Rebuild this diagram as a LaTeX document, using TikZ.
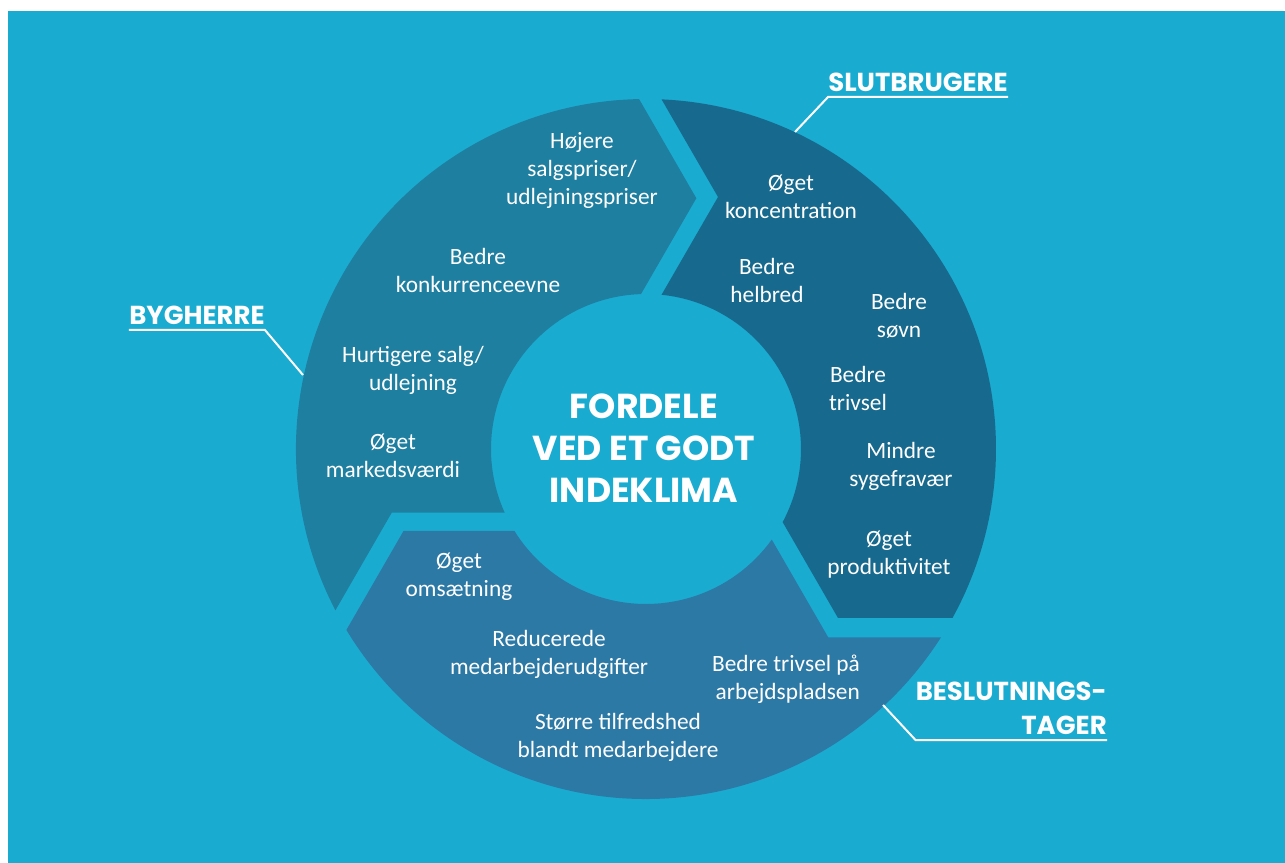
\documentclass[tikz,border=0pt]{standalone}
\usepackage{fontspec}
\setmainfont{Carlito}
\newfontfamily\headfont{Poppins}
\definecolor{bgblue}{RGB}{26,171,209}
\definecolor{partA}{RGB}{30,127,160}
\definecolor{partB}{RGB}{23,105,141}
\definecolor{partC}{RGB}{44,121,166}

\newcommand{\ringpart}[2]{%
  \fill[#2, rotate=#1] (87.45:350) arc[start angle=87.45, end angle=-28.87, radius=350]
    -- (192,-169) -- (-28.15:155) arc[start angle=-28.15, end angle=84.24, radius=155]
    -- (72,252) -- cycle;}

\begin{document}
\begin{tikzpicture}[x=0.75pt, y=0.75pt,
  txt/.style={text=white, align=center, font=\fontsize{17.5}{21}\selectfont},
  lbl/.style={text=white, font=\headfont\bfseries\fontsize{19.5}{25.5}\selectfont,
    inner xsep=0pt, inner ysep=4pt, text depth=0pt},
  leader/.style={white, line width=1.5pt}]
  \fill[white] (-646,449) rectangle (639,-414);
  \fill[bgblue] (-638,438) rectangle (639,-414);
  \useasboundingbox (-646,449) rectangle (639,-414);

  \ringpart{120}{partA}
  \ringpart{0}{partB}
  \ringpart{-120}{partC}

  \node[text=white, align=center, font=\headfont\bfseries\fontsize{26}{31.5}\selectfont]
    (core) at (-2,1) {FORDELE\\VED ET GODT\\INDEKLIMA};

  \node[txt] (hoj)  at (-64,279)  {Højere\\salgspriser/\\udlejningspriser};
  \node[txt] (konk) at (-168,179) {Bedre\\konkurrenceevne};
  \node[txt] (hurt) at (-233,79)  {Hurtigere salg/\\udlejning};
  \node[txt] (mark) at (-253,-7)  {Øget\\markedsværdi};

  \node[txt] (konc) at (145,252)  {Øget\\koncentration};
  \node[txt] (helb) at (121,169)  {Bedre\\helbred};
  \node[txt] (sovn) at (253,133)  {Bedre\\søvn};
  \node[txt] (triv) at (212,61)   {Bedre\\trivsel};
  \node[txt] (sygf) at (255,-17)  {Mindre\\sygefravær};
  \node[txt] (prod) at (243,-106) {Øget\\produktivitet};

  \node[txt] (oms)  at (-187,-128) {Øget\\omsætning};
  \node[txt] (red)  at (-97,-205)  {Reducerede\\medarbejderudgifter};
  \node[txt, align=right] (arb) at (140,-230) {Bedre trivsel på\\arbejdspladsen};
  \node[txt] (stor) at (-28,-288)  {Større tilfredshed\\blandt medarbejdere};

  \node[lbl, anchor=south west] (byg) at (-517,119) {BYGHERRE};
  \coordinate (bygend) at (-343,74);
  \draw[leader] (byg.south west) -- (byg.south east) -- (bygend);

  \node[lbl, anchor=south east] (slut) at (362,352) {SLUTBRUGERE};
  \coordinate (slutend) at (149,317);
  \draw[leader] (slut.south east) -- (slut.south west) -- (slutend);

  \node[lbl, anchor=south east, align=right] (besl) at (461,-291) {BESLUTNINGS-\\TAGER};
  \coordinate (beslend) at (237,-256);
  \draw[leader] (besl.south east) -- (besl.south west) -- (beslend);
\end{tikzpicture}
\end{document}
